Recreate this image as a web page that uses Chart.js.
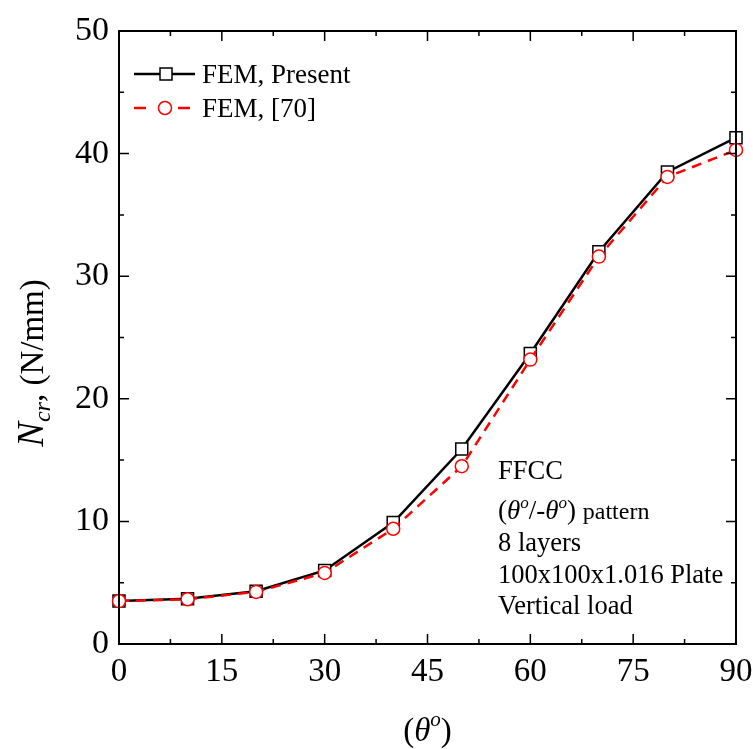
<!DOCTYPE html>
<html><head><meta charset="utf-8">
<script src="https://cdn.jsdelivr.net/npm/chart.js@4.4.0/dist/chart.umd.min.js"></script>
<style>html,body{margin:0;padding:0;background:#fff}#wrap{width:753px;height:749px}</style>
</head><body><div id="wrap"><canvas id="c" width="753" height="749"></canvas></div>
<script>
const angles = [0, 10, 20, 30, 40, 50, 60, 70, 80, 90];
const femPresent = [3.5, 3.7, 4.3, 6.0, 9.9, 15.9, 23.7, 32.0, 38.5, 41.3];
const femRef70 = [3.5, 3.65, 4.25, 5.8, 9.4, 14.5, 23.2, 31.6, 38.1, 40.3];
const xTicks = [0, 15, 30, 45, 60, 75, 90];
const yTicks = [0, 10, 20, 30, 40, 50];
const seriesNames = ["FEM, Present", "FEM, [70]"];
const noteLines = ["FFCC", "pattern", "8 layers", "100x100x1.016 Plate", "Vertical load"];

const SERIF = '"Liberation Serif","Times New Roman",serif';

function drawRich(ctx, segs, x, y, align) {
  let w = 0;
  segs.forEach(s => { ctx.font = s.font; w += ctx.measureText(s.text).width + (s.dx || 0); });
  let cx = align === 'center' ? x - w / 2 : x;
  segs.forEach(s => {
    ctx.font = s.font;
    ctx.fillText(s.text, cx, y + (s.dy || 0));
    cx += ctx.measureText(s.text).width + (s.dx || 0);
  });
}

const decor = {
  id: 'decor',
  afterDraw(chart) {
    const ctx = chart.ctx, a = chart.chartArea;
    const xs = chart.scales.x, ys = chart.scales.y;
    ctx.save();
    ctx.strokeStyle = '#000';
    ctx.lineWidth = 2;
    ctx.strokeRect(a.left, a.top, a.right - a.left, a.bottom - a.top);
    // ticks
    ctx.lineWidth = 1.5;
    ctx.beginPath();
    for (let v = 0; v <= 90.01; v += 7.5) {
      const px = xs.getPixelForValue(v);
      const major = Math.abs(v % 15) < 0.01;
      const L = major ? 10 : 5;
      ctx.moveTo(px, a.bottom); ctx.lineTo(px, a.bottom - L);
      ctx.moveTo(px, a.top); ctx.lineTo(px, a.top + L);
    }
    for (let v = 0; v <= 50.01; v += 5) {
      const py = ys.getPixelForValue(v);
      const major = Math.abs(v % 10) < 0.01;
      const L = major ? 10 : 5;
      ctx.moveTo(a.left, py); ctx.lineTo(a.left + L, py);
      ctx.moveTo(a.right, py); ctx.lineTo(a.right - L, py);
    }
    ctx.stroke();

    ctx.fillStyle = '#000';
    ctx.textBaseline = 'alphabetic';
    ctx.textAlign = 'left';
    // x title
    drawRich(ctx, [
      {text: '(', font: '33px ' + SERIF},
      {text: 'θ', font: 'italic 33px ' + SERIF},
      {text: 'o', font: 'italic 21px ' + SERIF, dy: -15},
      {text: ')', font: '33px ' + SERIF}
    ], (a.left + a.right) / 2, 741, 'center');
    // y title
    ctx.save();
    ctx.translate(43, 363);
    ctx.rotate(-Math.PI / 2);
    drawRich(ctx, [
      {text: 'N', font: 'italic 37px ' + SERIF},
      {text: 'cr', font: 'italic 24px ' + SERIF, dy: 7},
      {text: ', ', font: '33px ' + SERIF},
      {text: '(N/mm)', font: '33px ' + SERIF}
    ], 0, 0, 'center');
    ctx.restore();

    // legend
    const lx0 = a.left + 15, lx1 = a.left + 76;
    const ly1 = 74, ly2 = 108;
    ctx.strokeStyle = '#000'; ctx.lineWidth = 2.5;
    ctx.beginPath(); ctx.moveTo(lx0, ly1); ctx.lineTo(lx1, ly1); ctx.stroke();
    ctx.fillStyle = '#fff'; ctx.lineWidth = 1.5;
    ctx.fillRect(160, ly1 - 6, 12, 12); ctx.strokeRect(160, ly1 - 6, 12, 12);
    ctx.strokeStyle = '#ff0000'; ctx.lineWidth = 2.5;
    ctx.beginPath();
    ctx.moveTo(lx0, ly2); ctx.lineTo(lx0 + 12, ly2);
    ctx.moveTo(lx1 - 17, ly2); ctx.lineTo(lx1 - 5, ly2);
    ctx.stroke();
    ctx.lineWidth = 1.5;
    ctx.beginPath(); ctx.arc(165, ly2, 6.5, 0, Math.PI * 2); ctx.fill(); ctx.stroke();
    ctx.fillStyle = '#000';
    ctx.font = '27px ' + SERIF;
    ctx.fillText(seriesNames[0], 202, ly1 + 9);
    ctx.fillText(seriesNames[1], 202, ly2 + 9);

    // note
    const nx = 498;
    ctx.font = '26.5px ' + SERIF;
    ctx.fillText(noteLines[0], nx, 479);
    drawRich(ctx, [
      {text: '(', font: '27px ' + SERIF},
      {text: 'θ', font: 'italic 27px ' + SERIF},
      {text: 'o', font: 'italic 17px ' + SERIF, dy: -11},
      {text: '/-', font: '27px ' + SERIF},
      {text: 'θ', font: 'italic 27px ' + SERIF},
      {text: 'o', font: 'italic 17px ' + SERIF, dy: -11},
      {text: ') ', font: '27px ' + SERIF},
      {text: noteLines[1], font: '24px ' + SERIF}
    ], nx, 519, 'left');
    ctx.font = '26.5px ' + SERIF;
    ctx.fillText(noteLines[2], nx, 551);
    ctx.fillText(noteLines[3], nx, 583);
    ctx.fillText(noteLines[4], nx, 614);
    ctx.restore();
  }
};

new Chart(document.getElementById('c'), {
  type: 'line',
  data: {
    labels: angles,
    datasets: [
      {
        label: seriesNames[0],
        data: angles.map((x, i) => ({x, y: femPresent[i]})),
        borderColor: '#000', borderWidth: 2.5,
        pointStyle: 'rect', pointRadius: 8.5, pointBorderWidth: 1.5,
        pointBackgroundColor: '#fff', pointBorderColor: '#000',
        tension: 0, order: 2, clip: false
      },
      {
        label: seriesNames[1],
        data: angles.map((x, i) => ({x, y: femRef70[i]})),
        borderColor: '#ff0000', borderWidth: 2.5, borderDash: [10, 7],
        pointStyle: 'circle', pointRadius: 6.5, pointBorderWidth: 1.5,
        pointBackgroundColor: '#fff', pointBorderColor: '#ff0000',
        tension: 0, order: 1, clip: false
      }
    ]
  },
  options: {
    responsive: false, animation: false,
    layout: {padding: {top: 31, right: 17, left: 0, bottom: 0}},
    plugins: {legend: {display: false}, tooltip: {enabled: false}},
    scales: {
      x: {
        type: 'linear', min: 0, max: 90,
        afterBuildTicks(s) { s.ticks = xTicks.map(v => ({value: v})); },
        afterFit(s) { s.height = 105; s.paddingLeft = 0; s.paddingRight = 0; },
        grid: {display: false, drawTicks: false},
        border: {display: true, color: '#000', width: 2},
        ticks: {color: '#000', font: {family: SERIF, size: 33}, padding: 9, maxRotation: 0, autoSkip: false}
      },
      y: {
        type: 'linear', min: 0, max: 50,
        afterBuildTicks(s) { s.ticks = yTicks.map(v => ({value: v})); },
        afterFit(s) { s.width = 119; s.paddingTop = 0; s.paddingBottom = 0; },
        grid: {display: false, drawTicks: false},
        border: {display: true, color: '#000', width: 2},
        ticks: {color: '#000', font: {family: SERIF, size: 34}, padding: 10, autoSkip: false}
      }
    }
  },
  plugins: [decor]
});
</script></body></html>
